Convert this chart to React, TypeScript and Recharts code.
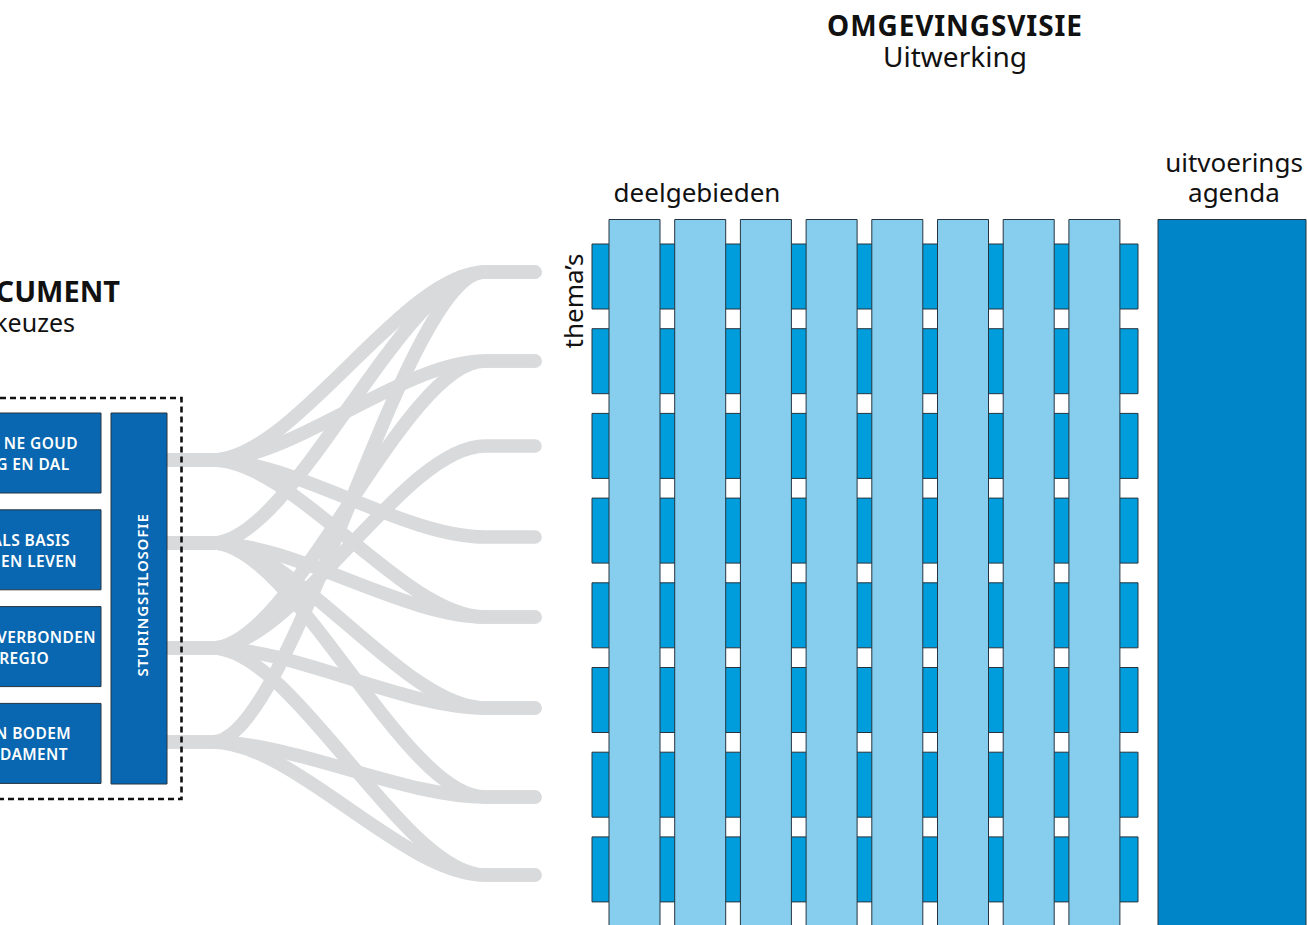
import React from "react";
import { ComposedChart, XAxis, YAxis, Line, ReferenceArea } from "recharts";

const W = 1307;
const H = 925;

// ---- inhoud ----
const titel = "OMGEVINGSVISIE";
const subtitel = "Uitwerking";
const documentTitel = "CUMENT";
const documentSub = "keuzes";
const keuzes: string[][] = [
  ["NE GOUD", "G EN DAL"],
  ["ALS BASIS", "EN LEVEN"],
  ["VERBONDEN", "REGIO"],
  ["N BODEM", "DAMENT"],
];
const sturing = "STURINGSFILOSOFIE";
const themas = ["thema 1", "thema 2", "thema 3", "thema 4", "thema 5", "thema 6", "thema 7", "thema 8"];
const deelgebieden = ["gebied 1", "gebied 2", "gebied 3", "gebied 4", "gebied 5", "gebied 6", "gebied 7", "gebied 8"];
// koppeling: [keuze index, thema index]
const koppelingen: [number, number][] = [
  [0, 0], [0, 1], [0, 3], [0, 4],
  [1, 0], [1, 4], [1, 5], [1, 6],
  [2, 1], [2, 2], [2, 5], [2, 7],
  [3, 0], [3, 6], [3, 7],
];

// ---- layout ----
const ROW = { top: 244, step: 84.7, h: 65, x1: 592, x2: 1138 };
const COL = { left: 609, step: 65.7, w: 51, y1: 219.5, y2: 940 };
const AGENDA = { x1: 1158, x2: 1306, y1: 219.5, y2: 940 };
const KEUZE = { x1: -40, x2: 101, top: 413, step: 96.8, h: 80 };
const STURING = { x1: 111, x2: 167, y1: 413, y2: 784 };
const KADER = { x1: -40, x2: 181.5, y1: 398, y2: 799 };
const SOURCE_Y = [460, 543, 648, 742];
const TARGET_Y = [272, 361, 446, 537, 617, 708, 797, 875];
const LINK_X = [160, 212, 485, 535];
const LABEL_RIGHT = [[78, 69.5], [70, 77], [96, 49], [71, 68]];
const CURVE_K = 0.3;

const FONT = "'Noto Sans', 'Open Sans', sans-serif";
const C_KEUZE = "#0867b0";
const C_THEMA = "#009ddc";
const C_GEBIED = "#87ceee";
const C_AGENDA = "#0086c8";
const C_LINK = "#d9dadb";
const C_EDGE = "#26343f";

// horizontale S-bocht tussen opeenvolgende punten
function linkCurve(context: any) {
  let px = 0;
  let py = 0;
  let n = 0;
  return {
    areaStart() {},
    areaEnd() {},
    lineStart() {
      n = 0;
    },
    lineEnd() {},
    point(x: number, y: number) {
      x = +x;
      y = +y;
      if (n === 0) context.moveTo(x, y);
      else {
        const dx = (x - px) * CURVE_K;
        context.bezierCurveTo(px + dx, py, x - dx, y, x, y);
      }
      px = x;
      py = y;
      n++;
    },
  };
}

const layer: React.CSSProperties = { position: "absolute", left: 0, top: 0 };

function Axes() {
  return (
    <>
      <XAxis type="number" dataKey="x" domain={[0, W]} allowDataOverflow hide />
      <YAxis type="number" domain={[0, H]} reversed allowDataOverflow hide />
    </>
  );
}

export default function App() {
  const links = koppelingen.map(([s, t]) => [
    { x: LINK_X[0], y: SOURCE_Y[s] },
    { x: LINK_X[1], y: SOURCE_Y[s] },
    { x: LINK_X[2], y: TARGET_Y[t] },
    { x: LINK_X[3], y: TARGET_Y[t] },
  ]);

  return (
    <div style={{ position: "absolute", left: 0, top: 0, width: W, height: H, overflow: "hidden", background: "#fff" }}>
      {/* verbindingen */}
      <div style={layer}>
        <ComposedChart width={W} height={H} margin={{ top: 0, right: 0, bottom: 0, left: 0 }}>
          {Axes()}
          {links.map((d, i) => (
            <Line
              key={i}
              data={d}
              dataKey="y"
              type={linkCurve as any}
              stroke={C_LINK}
              strokeWidth={13.5}
              strokeLinecap="round"
              dot={false}
              activeDot={false}
              isAnimationActive={false}
            />
          ))}
        </ComposedChart>
      </div>

      {/* vlakken */}
      <div style={layer}>
        <ComposedChart width={W} height={H} margin={{ top: 0, right: 0, bottom: 0, left: 0 }}>
          {Axes()}
          {themas.map((t, i) => (
            <ReferenceArea
              key={t}
              x1={ROW.x1}
              x2={ROW.x2}
              y1={ROW.top + i * ROW.step}
              y2={ROW.top + i * ROW.step + ROW.h}
              fill={C_THEMA}
              fillOpacity={1}
              stroke={C_EDGE}
              strokeWidth={1}
              ifOverflow="visible"
            />
          ))}
          {deelgebieden.map((g, i) => (
            <ReferenceArea
              key={g}
              x1={COL.left + i * COL.step}
              x2={COL.left + i * COL.step + COL.w}
              y1={COL.y1}
              y2={COL.y2}
              fill={C_GEBIED}
              fillOpacity={1}
              stroke={C_EDGE}
              strokeWidth={1}
              ifOverflow="visible"
            />
          ))}
          <ReferenceArea
            x1={AGENDA.x1}
            x2={AGENDA.x2}
            y1={AGENDA.y1}
            y2={AGENDA.y2}
            fill={C_AGENDA}
            fillOpacity={1}
            stroke={C_EDGE}
            strokeWidth={1}
            ifOverflow="visible"
          />
          {keuzes.map((k, i) => (
            <ReferenceArea
              key={k[1]}
              x1={KEUZE.x1}
              x2={KEUZE.x2}
              y1={KEUZE.top + i * KEUZE.step}
              y2={KEUZE.top + i * KEUZE.step + KEUZE.h}
              fill={C_KEUZE}
              fillOpacity={1}
              stroke={C_EDGE}
              strokeWidth={1}
              ifOverflow="visible"
            />
          ))}
          <ReferenceArea
            x1={STURING.x1}
            x2={STURING.x2}
            y1={STURING.y1}
            y2={STURING.y2}
            fill={C_KEUZE}
            fillOpacity={1}
            stroke={C_EDGE}
            strokeWidth={1}
            ifOverflow="visible"
          />
          <ReferenceArea
            x1={KADER.x1}
            x2={KADER.x2}
            y1={KADER.y1}
            y2={KADER.y2}
            fill="none"
            stroke="#111"
            strokeWidth={2.6}
            strokeDasharray="6 4"
            ifOverflow="visible"
          />
        </ComposedChart>
      </div>

      {/* teksten */}
      <svg width={W} height={H} style={layer} fontFamily={FONT}>
        <text x={955} y={36} textAnchor="middle" fontSize={28} fontWeight={700} letterSpacing={0.9} fill="#111">{titel}</text>
        <text x={955} y={67} textAnchor="middle" fontSize={28} fill="#111">{subtitel}</text>
        <text x={697} y={202} textAnchor="middle" fontSize={26} fill="#111">deelgebieden</text>
        <text x={1234} y={172} textAnchor="middle" fontSize={26} fill="#111">uitvoerings</text>
        <text x={1234} y={202} textAnchor="middle" fontSize={26} fill="#111">agenda</text>
        <text x={0} y={0} transform="translate(583 301) rotate(-90)" textAnchor="middle" fontSize={26} fill="#111">thema’s</text>
        <text x={120} y={302} textAnchor="end" fontSize={29} fontWeight={700} fill="#111">{documentTitel}</text>
        <text x={75} y={332} textAnchor="end" fontSize={25} fill="#111">{documentSub}</text>
        {keuzes.map((k, i) =>
          k.map((line, j) => (
            <text
              key={line}
              x={LABEL_RIGHT[i][j]}
              y={KEUZE.top + i * KEUZE.step + 36 + j * 21}
              textAnchor="end"
              fontSize={15.5}
              fontWeight={600}
              letterSpacing={0.4}
              fill="#fff"
            >
              {line}
            </text>
          ))
        )}
        <text x={0} y={0} transform="translate(148 595) rotate(-90)" textAnchor="middle" fontSize={15} fontWeight={600} letterSpacing={0.8} fill="#fff">{sturing}</text>
      </svg>
    </div>
  );
}
